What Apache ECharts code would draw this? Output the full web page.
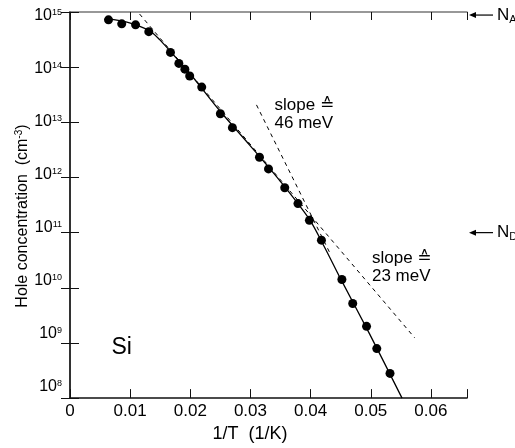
<!DOCTYPE html>
<html>
<head>
<meta charset="utf-8">
<style>
  html, body { margin: 0; padding: 0; background: #fff; }
  #chart { width: 515px; height: 448px; }
</style>
<script src="https://cdn.jsdelivr.net/npm/echarts@6/dist/echarts.min.js"></script>
</head>
<body>
<div id="chart"></div>
<script>
// measured points: 1/T (1/K) against hole concentration (cm^-3)
const invT = [0.0064, 0.0086, 0.0109, 0.0131, 0.0167, 0.0181, 0.0191, 0.0199, 0.0219, 0.0250, 0.0270,
  0.0315, 0.0330, 0.0357, 0.0379, 0.0398, 0.0418, 0.0452, 0.0470, 0.0493, 0.0510, 0.0532];
const holes = [7.2e14, 6.1e14, 5.85e14, 4.4e14, 1.85e14, 1.17e14, 9.2e13, 6.9e13, 4.35e13, 1.43e13, 8.0e12,
  2.33e12, 1.43e12, 6.5e11, 3.36e11, 1.67e11, 7.3e10, 1.41e10, 5.2e9, 2.0e9, 7.9e8, 2.8e8];

// solid fitted curve
const fitT = [0.0064, 0.0099, 0.0132, 0.0149, 0.0167, 0.0199, 0.0249, 0.0299, 0.0349, 0.0398, 0.0423, 0.0448, 0.0498, 0.0552];
const fitHoles = [7.5e14, 6.35e14, 4.57e14, 3.16e14, 1.92e14, 7.76e13, 1.62e13, 3.83e12, 8.69e11, 1.74e11, 5.48e10, 1.59e10, 1.46e9, 1.0e8];

// dashed slope guides
const slope46T = [0.0310, 0.0432];
const slope46Holes = [2.07e13, 4.29e10];
const slope23T = [0.01156, 0.0573];
const slope23Holes = [9.2e14, 1.24e9];

const levelNames = ['A', 'D'];
const levelValues = [8.8e14, 1.0e11];

const FONT = '"Liberation Sans", Arial, "DejaVu Sans", sans-serif';
const DARK = '#111';
const GREY = '#777';

const pairs = (xs, ys) => xs.map((x, i) => [x, ys[i]]);
const tickText = (v) => String(+v.toFixed(3));

const chart = echarts.init(document.getElementById('chart'));

chart.setOption({
  animation: false,
  grid: [
    { left: 70, right: 48, top: 12, bottom: 45 },
    // label-only grid: the decade labels sit on a slightly tighter scale than the ticks
    { left: 70, right: 48, top: 16, bottom: 61 }
  ],
  xAxis: [
    {
      type: 'value', gridIndex: 0, position: 'bottom', min: 0, max: 0.066, interval: 0.01,
      axisLine: { lineStyle: { color: DARK, width: 1.5 } },
      axisTick: { inside: true, length: 9, lineStyle: { color: DARK } },
      axisLabel: {
        color: '#000', fontSize: 17, fontFamily: FONT, margin: 5,
        formatter: (v) => (Math.abs(v * 100 - Math.round(v * 100)) < 1e-6 ? tickText(v) : '')
      },
      splitLine: { show: false },
      name: '1/T  (1/K)', nameLocation: 'middle', nameGap: 24,
      nameTextStyle: { color: '#000', fontSize: 18, fontFamily: FONT, padding: [0, 37, 0, 0] }
    },
    {
      type: 'value', gridIndex: 0, position: 'top', min: 0, max: 0.066, interval: 0.01,
      axisLine: { lineStyle: { color: GREY, width: 1.5 } },
      axisTick: { inside: true, length: 8, lineStyle: { color: DARK } },
      axisLabel: { show: false },
      splitLine: { show: false }
    },
    { type: 'value', gridIndex: 1, min: 0, max: 1, show: false }
  ],
  yAxis: [
    {
      type: 'log', logBase: 10, gridIndex: 0, min: 1e8, max: 1e15, interval: 1,
      axisLine: { lineStyle: { color: GREY, width: 1.5 } },
      axisTick: { inside: true, length: 9, lineStyle: { color: DARK } },
      axisLabel: { show: false },
      splitLine: { show: false },
      name: '{a|Hole concentration  (cm}{s|-3}{a|)}',
      nameLocation: 'middle', nameGap: 38,
      nameTextStyle: {
        padding: [0, 22, 0, 0],
        rich: {
          a: { fontSize: 16, fontFamily: FONT, color: '#000', lineHeight: 18 },
          s: { fontSize: 10, fontFamily: FONT, color: '#000', verticalAlign: 'top', lineHeight: 10 }
        }
      }
    },
    {
      type: 'log', logBase: 10, gridIndex: 0, position: 'right', min: 1e8, max: 1e15, interval: 1,
      axisLine: { lineStyle: { color: DARK, width: 1.5 } },
      axisTick: { inside: true, length: 9, lineStyle: { color: DARK } },
      axisLabel: { show: false },
      splitLine: { show: false }
    },
    {
      type: 'log', logBase: 10, gridIndex: 1, min: 1e8, max: 1e15, interval: 1,
      axisLine: { show: false },
      axisTick: { show: false },
      splitLine: { show: false },
      axisLabel: {
        margin: 8,
        formatter: (v) => '{b|10}{s|' + Math.round(Math.log10(v)) + '}',
        rich: {
          b: { fontSize: 16, fontFamily: FONT, color: '#000', lineHeight: 16 },
          s: { fontSize: 9, fontFamily: FONT, color: '#000', verticalAlign: 'top', lineHeight: 9 }
        }
      }
    }
  ],
  series: [
    {
      type: 'line', xAxisIndex: 0, yAxisIndex: 0, data: pairs(fitT, fitHoles),
      symbol: 'none', smooth: 0.3, lineStyle: { color: '#000', width: 1.3 }, z: 3
    },
    {
      type: 'line', xAxisIndex: 0, yAxisIndex: 0, data: pairs(slope46T, slope46Holes),
      symbol: 'none', lineStyle: { color: '#000', width: 1, type: [4, 4] }, z: 2
    },
    {
      type: 'line', xAxisIndex: 0, yAxisIndex: 0, data: pairs(slope23T, slope23Holes),
      symbol: 'none', lineStyle: { color: '#000', width: 1, type: [4, 4] }, z: 2
    },
    {
      type: 'scatter', xAxisIndex: 0, yAxisIndex: 0, data: pairs(invT, holes),
      symbol: 'circle', symbolSize: 9, itemStyle: { color: '#000', opacity: 1 }, z: 4
    }
  ]
});

// annotations anchored to data coordinates
const toPx = (x, y) => chart.convertToPixel({ xAxisIndex: 0, yAxisIndex: 0 }, [x, y]);
const graphics = [];

const textAt = (x, y, text, size, vAlign) => {
  const p = toPx(x, y);
  graphics.push({
    type: 'text', x: p[0], y: p[1],
    style: { text, fill: '#000', fontSize: size, fontFamily: FONT, lineHeight: size + 1, verticalAlign: vAlign || 'top' }
  });
};
textAt(0.0340, 3.0e13, 'slope \u2259\n46 meV', 17);
textAt(0.0502, 5.05e10, 'slope \u2259\n23 meV', 17);
textAt(0.0069, 8.2e8, 'Si', 23, 'middle');

const rightEdge = toPx(0.066, 1e15)[0];
levelValues.forEach((val, i) => {
  const y = toPx(0.066, val)[1];
  graphics.push(
    { type: 'line', shape: { x1: rightEdge + 7, y1: y, x2: rightEdge + 26, y2: y }, style: { stroke: '#000', lineWidth: 1.2 } },
    { type: 'polygon', shape: { points: [[rightEdge + 2, y], [rightEdge + 9, y - 3], [rightEdge + 9, y + 3]] }, style: { fill: '#000' } },
    {
      type: 'text', x: rightEdge + 30, y: y,
      style: {
        text: '{n|N}{s|' + levelNames[i] + '}', verticalAlign: 'middle',
        rich: {
          n: { fontSize: 17, fontFamily: FONT, fill: '#000', lineHeight: 20 },
          s: { fontSize: 11, fontFamily: FONT, fill: '#000', verticalAlign: 'bottom', lineHeight: 11 }
        }
      }
    }
  );
});
chart.setOption({ graphic: graphics });
</script>
</body>
</html>
